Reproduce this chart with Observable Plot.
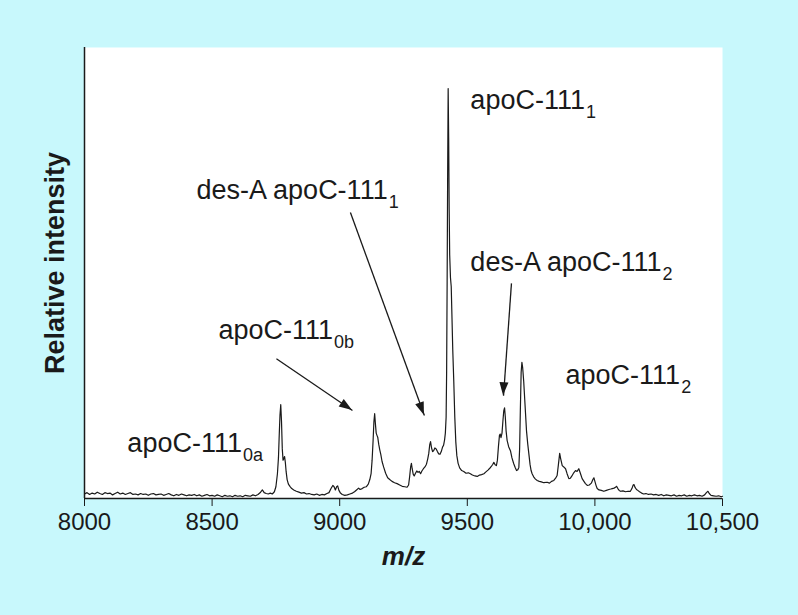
<!DOCTYPE html>
<html><head><meta charset="utf-8">
<script src="https://cdn.jsdelivr.net/npm/d3@7"></script>
<script src="https://cdn.jsdelivr.net/npm/@observablehq/plot@0.6"></script>
<style>
html,body{margin:0;padding:0;background:#c8f8fc;}
#chart{width:798px;height:615px;}
</style></head><body><div id="chart"></div>
<script>
const mz = [8000,8010,8020,8030,8040,8050,8060,8070,8080,8090,8100,8110,8120,8130,8140,8150,8160,8170,8180,8190,8200,8210,8220,8230,8240,8250,8260,8270,8280,8290,8300,8310,8320,8330,8340,8350,8360,8370,8380,8390,8400,8410,8420,8430,8440,8450,8460,8470,8480,8490,8500,8510,8520,8530,8540,8550,8560,8570,8580,8590,8600,8610,8620,8630,8640,8650,8660,8670,8680,8690,8697,8704,8712,8720,8728,8736,8744,8750,8756,8760,8763,8766,8769,8772,8775,8778,8781,8784,8787,8790,8794,8799,8805,8812,8820,8830,8840,8850,8860,8870,8880,8890,8900,8910,8920,8930,8940,8950,8958,8966,8973,8978,8983,8988,8992,8997,9003,9010,9020,9030,9040,9050,9058,9066,9074,9080,9088,9096,9104,9112,9118,9123,9127,9131,9134,9137,9140,9143,9146,9149,9153,9157,9161,9166,9172,9180,9188,9196,9205,9215,9225,9235,9245,9255,9264,9270,9274,9278,9281,9284,9288,9292,9297,9302,9307,9312,9317,9322,9328,9334,9340,9345,9349,9353,9356,9360,9364,9368,9373,9378,9383,9388,9393,9398,9403,9407,9411,9414,9417,9419,9421,9423,9425,9427,9429,9431,9434,9437,9440,9443,9447,9451,9455,9459,9464,9470,9478,9486,9495,9504,9512,9520,9530,9539,9548,9556,9565,9573,9581,9588,9594,9600,9604,9609,9614,9618,9622,9626,9629,9632,9636,9640,9643,9646,9649,9652,9656,9662,9669,9675,9682,9688,9693,9698,9702,9705,9708,9711,9714,9717,9721,9725,9728,9732,9737,9741,9746,9750,9754,9760,9767,9774,9782,9790,9800,9813,9822,9830,9839,9846,9852,9857,9862,9866,9872,9878,9885,9891,9898,9904,9910,9917,9924,9930,9937,9943,9950,9957,9963,9970,9978,9986,9992,9996,10000,10005,10009,10016,10025,10035,10045,10055,10062,10068,10075,10081,10085,10090,10095,10100,10110,10120,10130,10139,10145,10150,10153,10158,10163,10168,10175,10183,10191,10200,10210,10220,10230,10240,10250,10260,10270,10280,10290,10300,10310,10320,10330,10340,10350,10360,10370,10380,10390,10400,10410,10420,10430,10437,10443,10448,10455,10465,10475,10485,10495,10500];
const intensity = [1.0,1.3,0.9,1.2,1.0,1.4,1.1,0.9,1.3,1.1,1.2,0.8,1.1,1.4,1.0,1.2,0.9,1.1,1.3,0.9,1.0,0.8,1.1,0.9,1.0,0.7,1.0,1.1,0.8,0.9,1.0,0.7,0.9,1.1,0.8,0.6,0.9,0.7,1.0,0.8,0.6,0.8,0.7,0.9,0.6,0.8,0.5,0.7,0.9,0.6,0.7,0.5,0.8,0.6,0.4,0.7,0.5,0.6,0.4,0.7,0.5,0.6,0.4,0.7,0.6,0.5,0.8,0.6,0.9,1.4,1.9,1.3,1.1,1.0,1.2,1.0,1.5,2.6,5.5,9,14,18.5,20.8,17,11,8.5,8.8,9.3,8.0,6.0,4.2,3.2,2.7,2.2,1.9,1.6,1.4,1.2,1.3,1.0,1.1,0.9,0.8,1.0,0.7,0.9,0.8,1.1,1.3,2.2,2.9,2.6,1.9,2.6,2.8,1.8,1.2,0.9,0.7,0.8,1.0,1.2,1.5,1.9,2.3,2.0,2.2,2.5,2.6,3.2,4.2,5.5,8.5,13,17,18.8,16.5,14.5,14.0,13.6,12,10.8,9.8,8.2,7.0,5.6,4.6,4.2,3.8,3.5,3.3,3.0,2.7,2.6,2.5,3.0,4.8,7.0,7.8,6.6,5.4,5.0,5.6,6.1,5.8,6.0,5.5,6.1,6.6,7.0,7.6,8.8,10.0,12.0,12.6,11.2,10.4,10.6,11.2,11.0,10.4,9.9,9.8,10.4,11.4,11.8,13.0,14.5,18,28,48,72,90.9,80,64,54,49,47,40,33,26,18,12.5,9.5,7.8,6.8,6.2,6.0,5.6,5.7,5.5,5.2,5.0,4.9,5.2,5.3,5.5,5.9,6.3,6.7,7.1,7.6,8.0,7.5,7.3,8.5,11.5,14.0,14.3,13.5,14.5,17.5,19.5,20.1,18,15,12.9,11.5,10.6,9.0,7.7,6.8,6.2,6.4,6.9,11,20,28,30.2,29,26,22,19,15,12,10,7.5,6.2,5.5,4.8,4.3,4.0,3.8,3.7,3.5,3.6,3.4,3.8,4.0,4.5,5.1,7.5,10.0,8.8,7.3,7.0,6.6,5.5,4.4,4.5,5.0,5.7,6.2,6.0,6.6,5.6,4.4,3.8,3.3,2.9,3.0,3.4,4.2,4.6,3.8,2.8,2.2,1.9,1.8,1.6,1.8,2.0,2.1,2.2,2.3,2.5,2.7,2.2,1.8,1.6,1.7,1.5,1.6,1.6,2.2,3.0,3.1,2.4,2.0,1.8,1.5,1.2,1.0,1.1,0.9,1.0,0.8,0.9,0.7,0.9,0.6,0.8,0.7,0.6,0.8,0.5,0.7,0.6,0.8,0.5,0.7,0.6,0.8,0.6,0.7,0.5,0.8,1.3,1.6,1.1,0.7,0.6,0.5,0.6,0.4,0.5];

const xTicks = [8000, 8500, 9000, 9500, 10000, 10500];
const xTickLabels = ["8000", "8500", "9000", "9500", "10,000", "10,500"];

const labelText = ["apoC-111|1", "des-A apoC-111|1", "des-A apoC-111|2", "apoC-111|0b", "apoC-111|2", "apoC-111|0a"];
const labelX = [9512, 8439, 9512, 8525, 9885, 8168];
const labelY = [88.2, 68.3, 52.3, 37.3, 27.3, 12.2];

const arrowX1 = [8752, 9042, 9673];
const arrowY1 = [31.0, 63.4, 47.7];
const arrowX2 = [9050, 9332, 9642];
const arrowY2 = [19.5, 18.4, 22.8];

const spectrum = mz.map((m, i) => ({mz: m, v: intensity[i]}));
const labels = labelText.map((t, i) => ({t, x: labelX[i], y: labelY[i]}));
const arrows = arrowX1.map((x1, i) => ({x1, y1: arrowY1[i], x2: arrowX2[i], y2: arrowY2[i]}));

const ink = "#1a1a1a";

function arrowHeads(index, scales) {
  const g = d3.create("svg:g");
  arrows.forEach(a => {
    const x1 = scales.x(a.x1), y1 = scales.y(a.y1), x2 = scales.x(a.x2), y2 = scales.y(a.y2);
    const ang = Math.atan2(y2 - y1, x2 - x1);
    const L = 13, W = 4.5;
    const bx = x2 - L * Math.cos(ang), by = y2 - L * Math.sin(ang);
    const px = -Math.sin(ang) * W, py = Math.cos(ang) * W;
    g.append("path")
      .attr("d", `M${x2},${y2}L${bx + px},${by + py}L${bx - px},${by - py}Z`)
      .attr("fill", ink);
  });
  return g.node();
}

const chart = Plot.plot({
  width: 798, height: 615,
  marginLeft: 84, marginRight: 76, marginTop: 47, marginBottom: 117,
  style: {background: "transparent", fontFamily: "'Liberation Sans', Arial, sans-serif", fontSize: "24px", color: ink, overflow: "visible"},
  x: {domain: [8000, 10500], ticks: xTicks, tickFormat: d => xTickLabels[xTicks.indexOf(d)], tickSize: 8, tickPadding: 6, label: null},
  y: {domain: [0, 100], axis: null},
  marks: [
    Plot.frame({fill: "white", stroke: null}),
    Plot.ruleX([8000], {stroke: ink, strokeWidth: 1.5}),
    Plot.ruleY([0], {stroke: ink, strokeWidth: 1.5}),
    Plot.line(spectrum, {x: "mz", y: "v", stroke: ink, strokeWidth: 1.2}),
    Plot.link(arrows, {x1: "x1", y1: "y1", x2: "x2", y2: "y2", stroke: ink, strokeWidth: 1.3}),
    arrowHeads,
    Plot.text(labels, {x: "x", y: "y", text: "t", textAnchor: "start", fontSize: 27, fill: ink}),
    Plot.text(["Relative intensity"], {frameAnchor: "left", textAnchor: "middle", dx: -29, dy: -10, rotate: -90, fontSize: 27, fontWeight: "bold", fill: ink}),
    Plot.text(["m/z"], {frameAnchor: "bottom", dy: 66, fontSize: 26, fontWeight: "bold", fontStyle: "italic", fill: ink})
  ]
});
chart.querySelectorAll("text").forEach(t => {
  const s = t.textContent;
  if (s.includes("|")) {
    const [main, sub] = s.split("|");
    t.textContent = main;
    const ts = document.createElementNS("http://www.w3.org/2000/svg", "tspan");
    ts.setAttribute("font-size", "18");
    ts.setAttribute("dy", "9");
    ts.setAttribute("dx", "1");
    ts.textContent = sub;
    t.appendChild(ts);
  }
});
document.getElementById("chart").appendChild(chart);
</script>
</body></html>
